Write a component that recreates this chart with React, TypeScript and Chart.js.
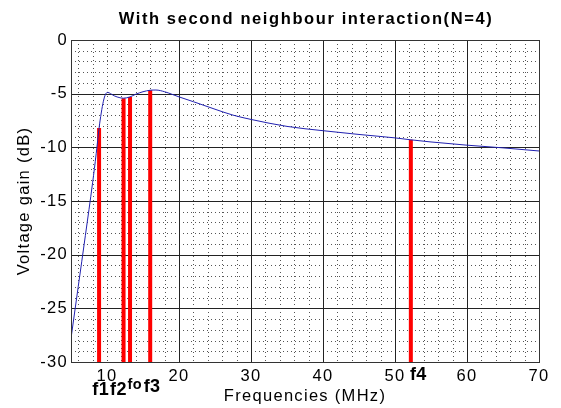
import { useEffect, useRef } from 'react';
import { Chart, registerables } from 'chart.js';

Chart.register(...registerables);

// ---- data ----
const freqs = [5, 6, 7, 8, 8.5, 8.9, 9.2, 9.5, 9.8, 10.1, 10.5, 11, 11.8, 12.3, 13.2, 14, 15, 16, 16.8, 18, 19, 20, 22, 25, 27.5, 30, 35, 40, 45, 50, 52.2, 55, 60, 65, 70];
const gains = [-27.8, -23.0, -18.2, -13.3, -10.6, -8.2, -6.8, -5.7, -5.05, -4.88, -5.0, -5.2, -5.38, -5.42, -5.3, -5.05, -4.82, -4.68, -4.66, -4.82, -5.05, -5.3, -5.75, -6.45, -7.0, -7.4, -8.05, -8.45, -8.8, -9.12, -9.3, -9.5, -9.8, -10.05, -10.34];

const markerNames = ['f1', 'f2', 'fo', 'f3', 'f4'];
const markerFreqs = [8.9, 12.3, 13.2, 16.0, 52.2];
const markerGains = [-8.2, -5.42, -5.3, -4.68, -9.3];
const markerLabelX = [7.96, 10.42, 12.85, 15.1, 52.08];
const markerLabelY = [-33.08, -33.08, -32.5, -32.8, -31.68];
const markerLabelSize = [18, 18, 14.5, 18, 18];

const xTicks = [10, 20, 30, 40, 50, 60, 70];
const yTicks = [0, -5, -10, -15, -20, -25, -30];
const xMajorGrid = [20, 30, 40, 50, 60];
const yMajorGrid = [-5, -10, -15, -20, -25];

const X_MIN = 5;
const X_MAX = 70;
const Y_MIN = -30;
const Y_MAX = 0;

const TITLE = 'With second neighbour interaction(N=4)';
const FONT = 'Arial, "Liberation Sans", sans-serif';

const gridPlugin = {
  id: 'matlabGrid',
  beforeDraw(chart: any) {
    (chart.ctx as any).letterSpacing = '1.3px';
  },
  beforeDatasetsDraw(chart: any) {
    const { ctx, chartArea } = chart;
    const xs = chart.scales.x;
    const ys = chart.scales.y;
    const { left, right, top, bottom } = chartArea;
    ctx.save();
    // minor dotted
    ctx.strokeStyle = '#555';
    ctx.lineWidth = 1;
    ctx.setLineDash([1, 3]);
    for (let v = 6; v < X_MAX; v += 2) {
      if (xMajorGrid.includes(v)) continue;
      const px = Math.round(xs.getPixelForValue(v)) + 0.5;
      ctx.beginPath();
      ctx.moveTo(px, top);
      ctx.lineTo(px, bottom);
      ctx.stroke();
    }
    for (let v = Y_MIN + 1; v < Y_MAX; v += 1) {
      if (yMajorGrid.includes(v)) continue;
      const py = Math.round(ys.getPixelForValue(v)) + 0.5;
      ctx.beginPath();
      ctx.moveTo(left, py);
      ctx.lineTo(right, py);
      ctx.stroke();
    }
    // major solid
    ctx.setLineDash([]);
    ctx.strokeStyle = '#222';
    for (const v of xMajorGrid) {
      const px = Math.round(xs.getPixelForValue(v)) + 0.5;
      ctx.beginPath();
      ctx.moveTo(px, top);
      ctx.lineTo(px, bottom);
      ctx.stroke();
    }
    for (const v of yMajorGrid) {
      const py = Math.round(ys.getPixelForValue(v)) + 0.5;
      ctx.beginPath();
      ctx.moveTo(left, py);
      ctx.lineTo(right, py);
      ctx.stroke();
    }
    ctx.restore();
  },
  afterDraw(chart: any) {
    const { ctx, chartArea } = chart;
    const xs = chart.scales.x;
    const ys = chart.scales.y;
    const { left, right, top, bottom } = chartArea;
    ctx.save();
    // box
    ctx.strokeStyle = '#333';
    ctx.lineWidth = 1;
    ctx.strokeRect(Math.round(left) + 0.5, Math.round(top) + 0.5, Math.round(right - left), Math.round(bottom - top));
    // title
    ctx.fillStyle = '#000';
    (ctx as any).letterSpacing = '1.6px';
    ctx.font = `bold 16.5px ${FONT}`;
    ctx.textAlign = 'center';
    ctx.textBaseline = 'alphabetic';
    ctx.fillText(TITLE, (left + right) / 2 + 1, 24);
    // marker labels
    (ctx as any).letterSpacing = '0.4px';
    ctx.textAlign = 'left';
    ctx.textBaseline = 'alphabetic';
    markerNames.forEach((name, i) => {
      ctx.font = `bold ${markerLabelSize[i]}px ${FONT}`;
      ctx.fillText(name, xs.getPixelForValue(markerLabelX[i]), ys.getPixelForValue(markerLabelY[i]));
    });
    ctx.restore();
  },
};

export default function App() {
  const canvasRef = useRef<HTMLCanvasElement | null>(null);

  useEffect(() => {
    document.body.style.margin = '0';
    const canvas = canvasRef.current;
    if (!canvas) return;
    const markerDatasets = markerNames.map((name, i) => ({
      label: name,
      data: [
        { x: markerFreqs[i], y: Y_MIN },
        { x: markerFreqs[i], y: markerGains[i] },
      ],
      borderColor: '#ff0000',
      borderWidth: 4,
      pointRadius: 0,
      borderCapStyle: 'butt' as const,
    }));
    const chart = new Chart(canvas, {
      type: 'line',
      data: {
        datasets: [
          {
            label: 'gain',
            data: freqs.map((f, i) => ({ x: f, y: gains[i] })),
            borderColor: '#2020b0',
            borderWidth: 1,
            pointRadius: 0,
            cubicInterpolationMode: 'monotone' as const,
          },
          ...markerDatasets,
        ],
      },
      options: {
        animation: false,
        responsive: false,
        maintainAspectRatio: false,
        layout: { padding: { top: 40, right: 22, bottom: 0, left: 0 } },
        plugins: {
          legend: { display: false },
          tooltip: { enabled: false },
          title: { display: false },
        },
        scales: {
          x: {
            type: 'linear',
            min: X_MIN,
            max: X_MAX,
            afterBuildTicks: (s: any) => {
              s.ticks = xTicks.map((v) => ({ value: v }));
            },
            afterFit: (s: any) => {
              s.height = 46;
            },
            grid: { display: false, drawTicks: false },
            border: { display: false },
            ticks: {
              color: '#000',
              font: { family: FONT, size: 16.5 },
              padding: 5,
              maxRotation: 0,
              autoSkip: false,
            },
            title: {
              display: true,
              text: 'Frequencies (MHz)',
              color: '#000',
              font: { family: FONT, size: 16.5 },
              padding: { top: 0, bottom: 2 },
            },
          },
          y: {
            type: 'linear',
            min: Y_MIN,
            max: Y_MAX,
            afterBuildTicks: (s: any) => {
              s.ticks = yTicks.map((v) => ({ value: v }));
            },
            afterFit: (s: any) => {
              s.width = 71;
            },
            grid: { display: false, drawTicks: false },
            border: { display: false },
            ticks: {
              color: '#000',
              font: { family: FONT, size: 16.5 },
              padding: 3,
              autoSkip: false,
            },
            title: {
              display: true,
              text: 'Voltage gain (dB)',
              color: '#000',
              font: { family: FONT, size: 16.5 },
              padding: { top: 15, bottom: 0 },
            },
          },
        },
      },
      plugins: [gridPlugin],
    });
    return () => chart.destroy();
  }, []);

  return (
    <div style={{ position: 'absolute', left: 0, top: 0, width: 561, height: 408, background: '#fff' }}>
      <canvas ref={canvasRef} width={561} height={408} />
    </div>
  );
}
